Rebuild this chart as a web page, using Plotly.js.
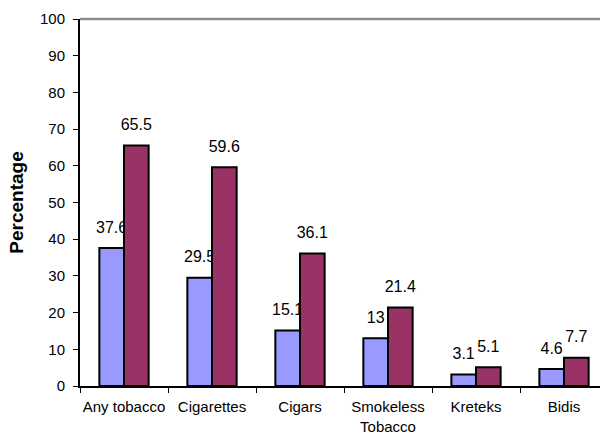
<!DOCTYPE html>
<html>
<head>
<meta charset="utf-8">
<script src="https://cdn.plot.ly/plotly-3.0.1.min.js"></script>
<style>
  html, body { margin: 0; padding: 0; overflow: hidden; background: #fff; }
  #chart { width: 600px; height: 433px; }
</style>
</head>
<body>
<div id="chart"></div>
<script>
// Tobacco product use, two groups compared (percent)
const categories = ['Any tobacco', 'Cigarettes', 'Cigars', 'Smokeless<br>Tobacco', 'Kreteks', 'Bidis'];
const seriesA = [37.6, 29.5, 15.1, 13, 3.1, 4.6];
const seriesB = [65.5, 59.6, 36.1, 21.4, 5.1, 7.7];
const yTicks = [0, 10, 20, 30, 40, 50, 60, 70, 80, 90, 100];

const FONT = 'Arial, "Liberation Sans", sans-serif';

// Value label sits a little above the bar: the visible number is set at
// full size, and a small blank second line lifts it off the bar top.
function labels(vals) {
  return vals.map(v => "<span style='font-size:16px'>" + v + "</span><br>\u00a0");
}

function barTrace(name, vals, color) {
  return {
    type: 'bar',
    name: name,
    x: categories,
    y: vals,
    text: labels(vals),
    textposition: 'outside',
    textangle: 0,
    constraintext: 'none',
    cliponaxis: false,
    textfont: { family: FONT, size: 8, color: '#000' },
    marker: { color: color, line: { color: '#000', width: 2 } },
    hoverinfo: 'none'
  };
}

const data = [
  barTrace('Group A', seriesA, '#9999FF'),
  barTrace('Group B', seriesB, '#993366')
];

const layout = {
  width: 600,
  height: 433,
  margin: { l: 80, r: 0, t: 19, b: 47, pad: 0 },
  paper_bgcolor: '#fff',
  plot_bgcolor: '#fff',
  showlegend: false,
  barmode: 'group',
  bargap: 0.44,
  bargroupgap: 0,
  font: { family: FONT, size: 15, color: '#000' },
  xaxis: {
    type: 'category',
    range: [-0.5, 5.409],
    showline: true,
    linecolor: '#000',
    linewidth: 2,
    ticks: 'outside',
    tickson: 'boundaries',
    ticklen: 5,
    tickwidth: 1,
    tickcolor: '#000',
    tickangle: 0,
    ticklabelstandoff: 6,
    tickfont: { family: FONT, size: 15, color: '#000' },
    showgrid: false,
    zeroline: false,
    fixedrange: true
  },
  yaxis: {
    range: [0, 100],
    tickvals: yTicks,
    ticktext: yTicks.map(String),
    showline: true,
    linecolor: '#000',
    linewidth: 2,
    ticks: 'outside',
    ticklen: 5,
    tickwidth: 1,
    tickcolor: '#000',
    ticklabelstandoff: 5,
    tickfont: { family: FONT, size: 15, color: '#000' },
    showgrid: false,
    zeroline: false,
    fixedrange: true,
    title: {
      text: 'Percentage',
      font: { family: FONT, size: 19, color: '#000', weight: 'bold' },
      standoff: 11
    }
  },
  shapes: [{
    type: 'line', xref: 'paper', yref: 'paper',
    x0: 0, x1: 1, y0: 1, y1: 1,
    line: { color: '#8c8c8c', width: 2.5 }
  }]
};

Plotly.newPlot('chart', data, layout, { staticPlot: true, displayModeBar: false });
</script>
</body>
</html>
